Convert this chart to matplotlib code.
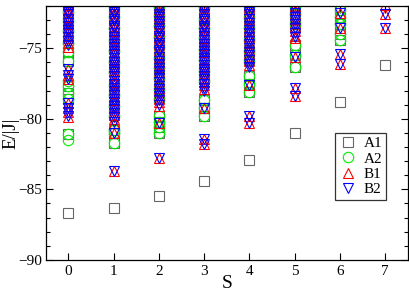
import matplotlib
matplotlib.use("Agg")
import matplotlib.pyplot as plt
from matplotlib.ticker import MultipleLocator

plt.rcParams["font.family"] = ["Liberation Serif", "DejaVu Serif"]

# energies E/|J| for each total spin S, per symmetry sector
a1 = {
    0: [-72.2, -72.9, -73.6, -74.4, -75.3, -75.9, -77.7, -78.2, -78.6, -81.1, -86.7],
    1: [-72.1, -72.7, -73.4, -74.3, -75.0, -75.9, -76.6, -77.5, -78.2, -79.0, -79.7, -80.8, -81.0, -81.7, -86.3],
    2: [-72.0, -72.6, -73.3, -74.1, -74.8, -75.6, -76.3, -77.0, -77.8, -78.5, -79.8, -80.2, -80.6, -81.0, -85.5],
    3: [-72.0, -72.8, -73.5, -74.2, -75.0, -75.7, -76.5, -77.2, -78.7, -79.2, -79.8, -84.4],
    4: [-72.1, -72.7, -73.5, -74.3, -75.1, -75.8, -77.0, -77.5, -78.1, -82.9],
    5: [-72.1, -72.8, -73.5, -74.8, -75.5, -76.3, -81.0],
    6: [-72.3, -72.8, -73.3, -74.0, -74.4, -78.8],
    7: [-76.2],
}
a2 = {
    0: [-72.4, -73.1, -73.8, -74.6, -75.3, -75.9, -77.3, -77.7, -78.2, -78.6, -81.1, -81.5],
    1: [-72.1, -72.8, -73.6, -74.4, -75.2, -76.0, -76.7, -77.6, -78.3, -79.1, -79.8, -80.8, -81.0, -81.7],
    2: [-72.1, -72.7, -73.4, -74.2, -74.9, -75.7, -76.4, -77.1, -77.9, -78.6, -79.8, -80.2, -80.6, -81.0],
    3: [-72.1, -72.9, -73.6, -74.3, -75.1, -75.8, -76.6, -77.3, -78.7, -79.2, -79.8],
    4: [-72.0, -72.8, -73.6, -74.4, -75.2, -75.9, -77.0, -77.5, -78.1],
    5: [-72.0, -72.6, -73.3, -74.8, -75.5, -76.3],
    6: [-72.3, -72.8, -73.3, -74.0, -74.4],
    7: [],
}
b1 = {
    0: [-71.9, -72.3, -72.5, -72.8, -73.0, -73.3, -73.5, -73.8, -74.1, -74.3, -74.6, -74.9,
        -76.5, -76.9, -77.2, -78.9, -79.2, -79.5, -79.9],
    1: [-72.0, -72.2, -72.5, -72.7, -73.0, -73.2, -73.5, -73.8, -74.0, -74.3, -74.5, -74.8,
        -75.0, -75.3, -75.6, -75.8, -76.1, -76.3, -76.6, -76.9, -77.1, -77.4, -77.6, -77.9,
        -78.2, -78.4, -78.7, -78.9, -79.2, -79.5, -79.7, -80.0, -80.3, -81.0, -83.7],
    2: [-71.9, -72.2, -72.4, -72.7, -72.9, -73.2, -73.4, -73.7, -73.9, -74.2, -74.4, -74.7,
        -74.9, -75.2, -75.5, -75.7, -76.0, -76.2, -76.5, -76.7, -77.0, -77.3, -77.5, -77.8,
        -78.0, -78.3, -78.6, -78.8, -79.1, -80.3, -82.8],
    3: [-71.9, -72.2, -72.5, -72.7, -73.0, -73.2, -73.5, -73.7, -74.0, -74.3, -74.5, -74.8,
        -75.0, -75.3, -75.5, -75.8, -76.1, -76.3, -76.6, -76.8, -77.1, -77.4, -77.6, -77.9,
        -79.2, -81.4, -81.8],
    4: [-72.0, -72.2, -72.5, -72.8, -73.0, -73.3, -73.5, -73.8, -74.1, -74.3, -74.6, -74.9,
        -75.1, -75.4, -75.7, -75.9, -76.2, -77.6, -79.8, -80.3],
    5: [-72.0, -72.3, -72.6, -72.9, -73.2, -73.5, -73.8, -74.1, -74.3, -75.6, -77.8, -78.4],
    6: [-72.5, -73.6, -75.4, -76.1],
    7: [-71.9, -72.6, -73.6],
}
b2 = {
    0: [-72.1, -72.4, -72.6, -72.9, -73.2, -73.4, -73.7, -73.9, -74.2, -74.5, -74.8,
        -76.5, -76.9, -77.2, -78.9, -79.2, -79.5, -79.8],
    1: [-72.1, -72.4, -72.6, -72.9, -73.1, -73.4, -73.6, -73.9, -74.2, -74.4, -74.7, -74.9,
        -75.2, -75.4, -75.7, -76.0, -76.2, -76.5, -76.7, -77.0, -77.3, -77.5, -77.8, -78.0,
        -78.3, -78.6, -78.8, -79.1, -79.3, -79.6, -79.9, -80.2, -81.0, -83.7],
    2: [-72.1, -72.3, -72.6, -72.8, -73.1, -73.3, -73.6, -73.8, -74.1, -74.3, -74.6, -74.8,
        -75.1, -75.3, -75.6, -75.9, -76.1, -76.4, -76.6, -76.9, -77.1, -77.4, -77.7, -77.9,
        -78.2, -78.4, -78.7, -79.0, -80.3, -82.8],
    3: [-72.1, -72.3, -72.6, -72.9, -73.1, -73.4, -73.6, -73.9, -74.1, -74.4, -74.7, -74.9,
        -75.2, -75.4, -75.7, -75.9, -76.2, -76.5, -76.7, -77.0, -77.2, -77.5, -77.8, -78.0,
        -79.2, -81.4, -81.8],
    4: [-72.1, -72.4, -72.6, -72.9, -73.2, -73.4, -73.7, -73.9, -74.2, -74.5, -74.7, -75.0,
        -75.3, -75.5, -75.8, -76.1, -76.3, -77.6, -79.8, -80.3],
    5: [-72.2, -72.5, -72.8, -73.0, -73.3, -73.6, -73.9, -74.2, -75.6, -77.8, -78.4],
    6: [-72.5, -73.6, -75.4, -76.1],
    7: [-72.6, -73.6],
}

sectors = [
    ("A1", a1, "s", "#666666"),
    ("A2", a2, "o", "#00ee00"),
    ("B1", b1, "^", "#ff0000"),
    ("B2", b2, "v", "#0000ff"),
]

fig = plt.figure(figsize=(4.09, 2.96), dpi=100)
ax = fig.add_axes([0.112, 0.122, 0.885, 0.858])

for name, data, mk, col in sectors:
    xs, ys = [], []
    for s in data:
        xs += [s] * len(data[s])
        ys += data[s]
    ax.plot(xs, ys, ls="none", marker=mk, ms=7.5, mfc="none", mec=col,
            mew=0.8, label=name)

ax.set_xlim(-0.5, 7.5)
ax.set_ylim(-90, -72)
ax.set_xticks(range(8))
ax.yaxis.set_major_locator(MultipleLocator(5))
ax.yaxis.set_minor_locator(MultipleLocator(1))
ax.tick_params(which="both", direction="in", top=True, right=True,
               labelsize=11, width=0.8)
ax.tick_params(axis="y", pad=2.5)
ax.tick_params(which="major", length=5)
ax.tick_params(which="minor", length=3)
for sp in ax.spines.values():
    sp.set_linewidth(0.9)

ax.set_xlabel("S", fontsize=14)
ax.set_ylabel("E/|J|", fontsize=13.5)
ax.xaxis.set_label_coords(0.5, -0.06)
ax.yaxis.set_label_coords(-0.074, 0.5)

leg = ax.legend(loc="upper left", bbox_to_anchor=(0.8, 0.5), fontsize=11,
                frameon=True, fancybox=False, edgecolor="black",
                handletextpad=0.4, borderpad=0.25, labelspacing=0.1,
                handlelength=1.2, borderaxespad=0)
leg.get_frame().set_linewidth(0.9)

fig.savefig("out.png", dpi=100)
